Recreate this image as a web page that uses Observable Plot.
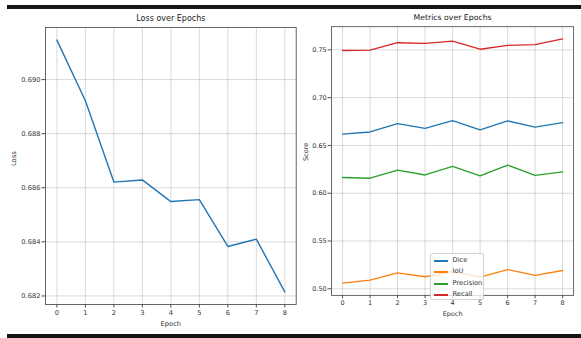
<!DOCTYPE html>
<html>
<head>
<meta charset="utf-8">
<script src="https://cdn.jsdelivr.net/npm/d3@7"></script>
<script src="https://cdn.jsdelivr.net/npm/@observablehq/plot@0.6"></script>
<style>
  html, body { margin: 0; padding: 0; background: #fff; overflow: hidden; }
  #root { position: relative; width: 581px; height: 338px; overflow: hidden; background: #fff; font-family: "DejaVu Sans", sans-serif; }
  .bar { position: absolute; left: 7px; right: 0; background: #151515; }
  .panel { position: absolute; top: 0; }
  #legend { position: absolute; left: 430px; top: 253px; width: 54px; height: 47px; box-sizing: border-box;
            background: rgba(255,255,255,0.8); border: 0.8px solid #d0d0d0; border-radius: 2px;
            font-family: "DejaVu Sans", sans-serif; font-size: 6.7px; color: #333; }
  .entry { position: absolute; left: 0; height: 10px; line-height: 10px; white-space: nowrap; }
  .entry .sw { position: absolute; left: 2.5px; top: 5px; width: 14px; height: 1.5px; }
  .entry .tx { position: absolute; left: 21.5px; top: 0; }
</style>
</head>
<body>
<div id="root">
  <div class="bar" style="top:5px;height:4px;"></div>
  <div class="bar" style="top:334px;height:4px;"></div>
  <div class="panel" id="left" style="left:0px;"></div>
  <div class="panel" id="right" style="left:290px;"></div>
  <div id="legend"></div>
</div>
<script>
// ---- data ----
const epochs = [0, 1, 2, 3, 4, 5, 6, 7, 8];
const loss = [0.69146, 0.68922, 0.68621, 0.68629, 0.68549, 0.68556, 0.68383, 0.68410, 0.68215];
const dice = [0.6618, 0.6641, 0.6729, 0.6679, 0.6760, 0.6662, 0.6757, 0.6692, 0.6739];
const iou = [0.5059, 0.5090, 0.5167, 0.5126, 0.5180, 0.5123, 0.5201, 0.5141, 0.5191];
const precision = [0.6164, 0.6157, 0.6241, 0.6191, 0.6282, 0.6181, 0.6294, 0.6187, 0.6224];
const recall = [0.7494, 0.7497, 0.7575, 0.7568, 0.7591, 0.7507, 0.7547, 0.7555, 0.7615];
const seriesNames = ["Dice", "IoU", "Precision", "Recall"];
const seriesValues = [dice, iou, precision, recall];
const seriesColors = ["#1f77b4", "#ff7f0e", "#2ca02c", "#d62728"];
const lossTicks = [0.682, 0.684, 0.686, 0.688, 0.690];
const scoreTicks = [0.50, 0.55, 0.60, 0.65, 0.70, 0.75];
const leftTitle = "Loss over Epochs";
const rightTitle = "Metrics over Epochs";
const xLabel = "Epoch";
const leftYLabel = "Loss";
const rightYLabel = "Score";

// ---- helpers ----
function padded(values) {
  const [lo, hi] = d3.extent(values);
  const r = hi - lo;
  return [lo - 0.05 * r, hi + 0.05 * r];
}
const gridStyle = {stroke: "#b0b0b0", strokeOpacity: 0.6, strokeWidth: 0.8};
const font = "DejaVu Sans";

function panel({width, marginLeft, marginRight, yDomain, yTicks, yFormat, title, yLabel, yLabelDx, lineMarks}) {
  return Plot.plot({
    width, height: 338,
    marginLeft, marginRight, marginTop: 27, marginBottom: 34,
    style: {fontFamily: font, fontSize: "6.7px", color: "#333", background: "transparent", overflow: "visible"},
    x: {domain: padded(epochs)},
    y: {domain: yDomain},
    marks: [
      Plot.gridX({ticks: epochs, ...gridStyle}),
      Plot.gridY({ticks: yTicks, ...gridStyle}),
      ...lineMarks,
      Plot.frame({stroke: "#4a4a4a", strokeWidth: 0.85}),
      Plot.axisX({ticks: epochs, tickSize: 3.5, tickPadding: 2, label: null, tickFormat: d => String(d), stroke: "#4a4a4a"}),
      Plot.axisY({ticks: yTicks, tickSize: 3.5, tickPadding: 1.5, label: null, tickFormat: d3.format(yFormat), stroke: "#4a4a4a"}),
      Plot.text([title], {frameAnchor: "top", dy: -6.5, fontSize: 8, fill: "#222", lineAnchor: "bottom"}),
      Plot.text([xLabel], {frameAnchor: "bottom", dy: 16.5, fontSize: 6.7, fill: "#333", lineAnchor: "top"}),
      Plot.text([yLabel], {frameAnchor: "left", dx: yLabelDx, rotate: -90, fontSize: 6.7, fill: "#333"})
    ]
  });
}

// ---- left: loss ----
const lossData = epochs.map((e, i) => ({epoch: e, loss: loss[i]}));
document.getElementById("left").append(panel({
  width: 300, marginLeft: 45, marginRight: 4.3,
  yDomain: padded(loss), yTicks: lossTicks, yFormat: ".3f",
  title: leftTitle, yLabel: leftYLabel, yLabelDx: -31.5,
  lineMarks: [Plot.line(lossData, {x: "epoch", y: "loss", stroke: seriesColors[0], strokeWidth: 1.4})]
}));

// ---- right: metrics ----
const metricData = [];
seriesNames.forEach((name, s) => {
  epochs.forEach((e, i) => metricData.push({epoch: e, value: seriesValues[s][i], series: name}));
});
const allScores = seriesValues.flat();
document.getElementById("right").append(panel({
  width: 300, marginLeft: 42.3, marginRight: 8.1,
  yDomain: padded(allScores), yTicks: scoreTicks, yFormat: ".2f",
  title: rightTitle, yLabel: rightYLabel, yLabelDx: -26.5,
  lineMarks: [Plot.line(metricData, {
    x: "epoch", y: "value", z: "series",
    stroke: d => seriesColors[seriesNames.indexOf(d.series)], strokeWidth: 1.4
  })]
}));

// ---- legend ----
const legend = document.getElementById("legend");
seriesNames.forEach((name, i) => {
  const row = document.createElement("div");
  row.className = "entry";
  row.style.top = Math.round(1 + i * 11.4) + "px";
  const sw = document.createElement("div");
  sw.className = "sw";
  sw.style.background = seriesColors[i];
  const tx = document.createElement("div");
  tx.className = "tx";
  tx.textContent = name;
  row.append(sw, tx);
  legend.append(row);
});
</script>
</body>
</html>
